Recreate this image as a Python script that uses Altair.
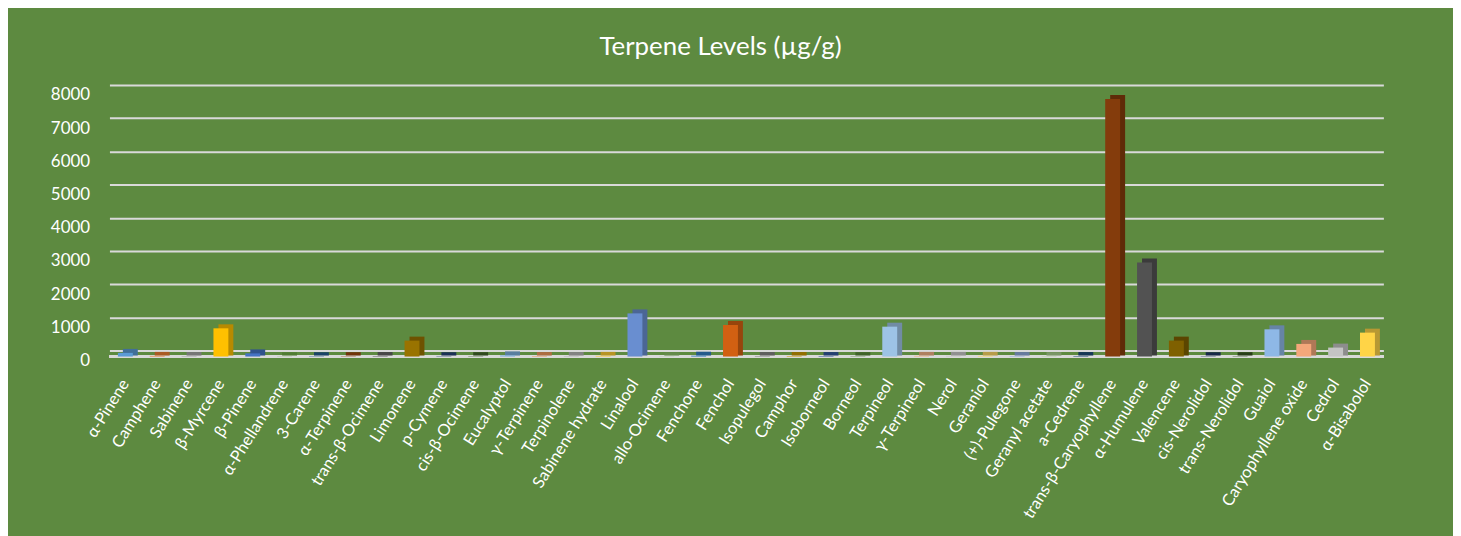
import altair as alt
import pandas as pd

terpenes = ["α-Pinene", "Camphene", "Sabinene", "β-Myrcene", "β-Pinene", "α-Phellandrene",
            "3-Carene", "α-Terpinene", "trans-β-Ocimene", "Limonene", "p-Cymene", "cis-β-Ocimene",
            "Eucalyptol", "γ-Terpinene", "Terpinolene", "Sabinene hydrate", "Linalool", "allo-Ocimene",
            "Fenchone", "Fenchol", "Isopulegol", "Camphor", "Isoborneol", "Borneol", "Terpineol",
            "γ-Terpineol", "Nerol", "Geraniol", "(+)-Pulegone", "Geranyl acetate", "a-Cedrene",
            "trans-β-Caryophyllene", "α-Humulene", "Valencene", "cis-Nerolidol", "trans-Nerolidol",
            "Guaiol", "Caryophyllene oxide", "Cedrol", "α-Bisabolol"]
levels = [110, 20, 15, 850, 95, 5,
          10, 10, 15, 480, 10, 10,
          35, 15, 15, 20, 1300, 5,
          25, 950, 15, 15, 15, 10, 900,
          20, 20, 20, 15, 10, 15,
          7760, 2830, 480, 10, 10,
          820, 380, 270, 720]
colors = ["#5B9BD5", "#ED7D31", "#A5A5A5", "#FFC000", "#4472C4", "#70AD47",
          "#255E91", "#9E480E", "#636363", "#997300", "#264478", "#43682B",
          "#7CAFDD", "#F1975A", "#B7B7B7", "#FFCD33", "#698ED0", "#8CC168",
          "#327DC2", "#D26012", "#848484", "#CC9A00", "#335AA1", "#5A8A39", "#9DC3E6",
          "#F4B183", "#C9C9C9", "#FFD966", "#8FAADC", "#A9D18E", "#1F4E79",
          "#843C0C", "#525252", "#7F6000", "#203864", "#385723",
          "#8EB8E6", "#F4A77A", "#C4C4C4", "#FFD447"]
y_ticks = [0, 1000, 2000, 3000, 4000, 5000, 6000, 7000, 8000]


def darken(hexc, f):
    r, g, b = int(hexc[1:3], 16), int(hexc[3:5], 16), int(hexc[5:7], 16)
    return "#%02X%02X%02X" % (int(r * f), int(g * f), int(b * f))


side_colors = [darken(c, 0.72) for c in colors]

df = pd.DataFrame({"terpene": terpenes, "level": levels})

BG = "#5D8A40"
GRID = "#D9D9D9"
FONT = "Lato"

y_axis = alt.Axis(values=y_ticks, format="d", grid=True, gridColor=GRID,
                  gridWidth=2, ticks=False, domain=False, labelColor="white",
                  labelOverlap=False, labelFontSize=17, labelFont=FONT,
                  labelPadding=20, labelOffset=10)
y_scale = alt.Scale(domain=[0, 8000], nice=False)

x = alt.X("terpene:N", sort=terpenes, title=None,
          scale=alt.Scale(paddingInner=0, paddingOuter=0),
          axis=alt.Axis(labelAngle=-58, labelAlign="right", labelBaseline="middle",
                        labelPadding=30, ticks=False, domain=False, labelColor="white",
                        labelFontSize=16.5, labelFont=FONT, labelOverlap=False, labelLimit=400))
y = alt.Y("level:Q", title=None, scale=y_scale, axis=y_axis, stack=None)

base = alt.Chart(df)

floor = base.mark_rule(color=GRID, strokeWidth=2, yOffset=6).encode(
    y=alt.YDatum(0, scale=y_scale, axis=y_axis, title=None))
side = base.mark_bar(size=15, xOffset=5, yOffset=2, y2Offset=5).encode(
    x=x, y=y, y2=alt.Y2Datum(0),
    color=alt.Color("terpene:N", scale=alt.Scale(domain=terpenes, range=side_colors), legend=None),
)
front = base.mark_bar(size=15, yOffset=6, y2Offset=6).encode(
    x=x, y=y, y2=alt.Y2Datum(0),
    color=alt.Color("terpene:N", scale=alt.Scale(domain=terpenes, range=colors), legend=None),
)

chart = alt.layer(floor, side, front).resolve_scale(color="independent").properties(
    width=1281, height=267,
    autosize=alt.AutoSizeParams(type="none"),
    padding={"left": 102, "top": 76, "right": 70, "bottom": 185},
    background=BG,
    title=alt.TitleParams("Terpene Levels (µg/g)", color="white", fontSize=26, font=FONT,
                          fontWeight="normal", offset=25, dx=-26),
).configure_view(stroke=None)

chart.save("out.html", embed_options={"renderer": "svg", "actions": False})
